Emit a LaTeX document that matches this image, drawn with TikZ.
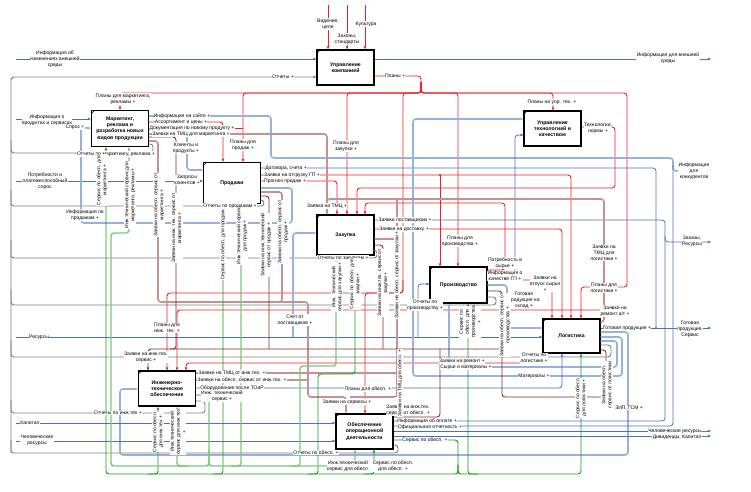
\documentclass[tikz,border=0pt]{standalone}
\usepackage{fontspec}
\setmainfont{Liberation Sans}
\usetikzlibrary{arrows.meta}

\definecolor{ctlred}{RGB}{236,32,36}
\definecolor{infblue}{RGB}{70,114,196}
\definecolor{matblue}{RGB}{150,178,222}
\definecolor{srvgreen}{RGB}{20,160,20}
\definecolor{isrvgreen}{RGB}{120,200,120}
\definecolor{reqbrown}{RGB}{140,45,45}
\definecolor{oreqbrown}{RGB}{200,145,145}
\definecolor{repgray}{RGB}{125,125,125}

\tikzset{
  proc/.style={draw,line width=1.1pt,fill=white,minimum width=57pt,minimum height=35pt,inner sep=1pt,align=center,font=\fontsize{5.2}{6.2}\selectfont\bfseries},
  lbl/.style={fill=white,inner sep=0.3pt,align=center,font=\fontsize{5}{6}\selectfont},
  vlbl/.style={lbl,rotate=90},
  ctl/.style={draw=ctlred,line width=0.9pt,rounded corners=3pt},
  inf/.style={draw=infblue,line width=0.8pt,rounded corners=3pt},
  mat/.style={draw=matblue,line width=1.6pt,rounded corners=3pt},
  srv/.style={draw=srvgreen,line width=0.9pt,rounded corners=3pt},
  isrv/.style={draw=isrvgreen,line width=1.4pt,rounded corners=3pt},
  req/.style={draw=reqbrown,line width=0.9pt,rounded corners=3pt},
  oreq/.style={draw=oreqbrown,line width=1.6pt,rounded corners=3pt},
  rep/.style={draw=repgray,line width=0.9pt,rounded corners=3pt},
}

\begin{document}
\begin{tikzpicture}[x=1pt,y=-1pt,>={Triangle[length=3pt,width=2.4pt]}]

    \fill[white] (0,0) rectangle (751,491);
    \useasboundingbox (0,0) rectangle (751,491);

    % Functions
    \node[proc] (upr) at (345.5,67.5) {Управление\\компанией};
    \node[proc,minimum height=36pt] (mark) at (120,128.5) {Маркетинг,\\реклама и\\разработка новых\\видов продукции};
    \node[proc,minimum height=41pt] (prod) at (232,183) {Продажи};
    \node[proc] (tech) at (552.5,128.5) {Управление\\технологией и\\качеством};
    \node[proc,minimum height=40pt] (zak) at (345.5,235) {Закупка};
    \node[proc,minimum height=36pt] (proizv) at (458.5,285) {Производство};
    \node[proc,minimum height=34pt] (log) at (571.5,336) {Логистика};
    \node[proc] (inzh) at (167,388.5) {Инженерно-\\техническое\\обеспечение};
    \node[proc] (obesp) at (364.5,431.5) {Обеспечение\\операционной\\деятельности};
    \foreach \b in {upr,mark,prod,tech,zak,proizv,log,inzh,obesp}
      \draw[line width=0.5pt] ([yshift=-4pt]\b.north west) -- ([xshift=4pt]\b.north west);

    % Reports
    \draw[rep,->] (11,453) -- (11,77) -- (upr.west |- 0,77);
    \draw[rep] (mark.east |- 0,144) -- (153,144) -- (153,153) -- (11,153) -- (11,140);
    \draw[rep] (prod.east |- 0,200) -- (264,200) -- (264,206) -- (11,206) -- (11,190);
    \draw[rep] (zak.east |- 0,250) -- (377,250) -- (377,258) -- (11,258) -- (11,240);
    \draw[rep] (proizv.east |- 0,297) -- (496,297) -- (496,305) -- (11,305) -- (11,290);
    \draw[rep] (log.east |- 0,345) -- (611,345) -- (611,357) -- (11,357) -- (11,340);
    \draw[rep] (inzh.east |- 0,401) -- (205,401) -- (205,413) -- (11,413) -- (11,400);
    \draw[rep] (obesp.east |- 0,445) -- (398,445) -- (398,453) -- (11,453) -- (11,440);

    % Controls from outside
    \foreach \x in {328,347,365} \draw[ctl,->] (\x,5) -- (\x,0 |- upr.north);

    % Plans
    \draw[ctl] (upr.east |- 0,76) -- (421,76) -- (421,93);
    \draw[ctl,->] (421,82) -- (421,93) -- (120,93) -- (120,0 |- mark.north);
    \draw[ctl,->] (421,82) -- (421,93) -- (243,93) -- (243,0 |- prod.north);
    \draw[ctl,->] (421,82) -- (421,93) -- (347,93) -- (347,0 |- zak.north);
    \draw[ctl,->] (421,82) -- (421,93) -- (403,93) -- (403,293) -- (167,293) -- (167,0 |- inzh.north);
    \draw[ctl,->] (403,280) -- (403,293) -- (365,293) -- (365,0 |- obesp.north);
    \draw[ctl,->] (421,82) -- (421,93) -- (458,93) -- (458,0 |- proizv.north);
    \draw[ctl,->] (421,82) -- (421,93) -- (553,93) -- (553,0 |- tech.north);
    \draw[ctl,->] (421,82) -- (421,93) -- (627,93) -- (627,287) -- (581,287) -- (581,0 |- log.north);

    % Other controls
    \draw[ctl,->] (tech.east |- 0,127) -- (615,127) -- (615,188) -- (357,188) -- (357,0 |- zak.north);
    \draw[ctl,->] (mark.east |- 0,122) -- (223,122) -- (223,0 |- prod.north);
    \draw[ctl] (mark.east |- 0,128) -- (243,128);
    \draw[ctl,->] (prod.east |- 0,175) -- (571,175) -- (571,0 |- log.north);
    \draw[ctl,->] (440,175) -- (440,0 |- proizv.north);
    \fill[ctlred] (440,175) circle (1.2pt);
    \draw[ctl,->] (prod.east |- 0,181) -- (337,181) -- (337,0 |- zak.north);
    \draw[ctl,->] (zak.east |- 0,229) -- (562,229) -- (562,0 |- log.north);
    \draw[ctl,->] (proizv.east |- 0,270) -- (505,270) -- (505,203) -- (365,203) -- (365,0 |- zak.north);
    \draw[ctl,->] (proizv.east |- 0,280) -- (552,280) -- (552,0 |- log.north);
    \draw[ctl,->] (601,310) -- (177,310) -- (177,0 |- inzh.north);
    \draw[ctl,->] (520,363) -- (186,363) -- (186,0 |- inzh.north);

    % Information and resources
    \draw[inf,->] (16,59) -- (upr.west |- 0,59);
    \draw[inf,->] (upr.east |- 0,59) -- (711,59);
    \draw[inf,->] (16,119) -- (mark.west |- 0,119);
    \draw[inf,->] (16,181) -- (prod.west |- 0,181);
    \draw[mat,->] (prod.east |- 0,188) -- (292,188) -- (292,223) -- (81,223) -- (81,128) -- (mark.west |- 0,128);
    \draw[mat,->] (mark.east |- 0,116) -- (271,116) -- (271,158) -- (673,158) -- (673,171) -- (711,171);
    \draw[mat,->] (187,116) -- (187,170) -- (prod.west |- 0,170);
    \fill[matblue] (187,116) circle (1.3pt);
    \draw[inf] (prod.east |- 0,168) -- (656,168) -- (656,328);
    \draw[inf,->] (zak.east |- 0,220) -- (665,220) -- (665,242) -- (711,242);
    \draw[inf,->] (proizv.east |- 0,275) -- (515,275) -- (515,135) -- (tech.west |- 0,135);
    \draw[mat,->] (proizv.east |- 0,285) -- (507,285) -- (507,328) -- (log.west |- 0,328);
    \draw[inf,->] (log.east |- 0,328) -- (711,328);
    \fill[infblue] (656,328) circle (1.2pt);
    \draw[inf,->] (16,337) -- (log.west |- 0,337);
    \draw[mat,->] (293,337) -- (293,233) -- (zak.west |- 0,233);
    \draw[inf,->] (418,337) -- (418,284) -- (proizv.west |- 0,284);
    \draw[mat,->] (log.east |- 0,332) -- (628,332) -- (628,455) -- (120,455) -- (120,389) -- (inzh.west |- 0,389);
    \draw[mat,->] (log.east |- 0,337) -- (622,337) -- (622,376) -- (413,376) -- (413,119) -- (tech.west |- 0,119);
    \draw[mat,->] (log.east |- 0,341) -- (617,341) -- (617,367) -- (449,367) -- (449,0 |- proizv.south);
    \draw[inf,->] (inzh.east |- 0,388) -- (562,388) -- (562,0 |- log.south);
    \draw[inf,->] (16,423) -- (obesp.west |- 0,423);
    \draw[inf,->] (16,441) -- (obesp.west |- 0,441);
    \draw[inf] (obesp.east |- 0,421) -- (665,421) -- (665,236);
    \draw[inf] (obesp.east |- 0,426) -- (673,426) -- (673,165);
    \draw[inf,->] (obesp.east |- 0,431) -- (711,431);
    \draw[inf,->] (obesp.east |- 0,436) -- (711,436);

    % Requests for materials and services
    \draw[oreq,->] (mark.east |- 0,134) -- (327,134) -- (327,0 |- zak.north);
    \draw[oreq,->] (log.east |- 0,322) -- (604,322) -- (604,199) -- (327,199) -- (327,0 |- zak.north);
    \draw[oreq] (397,199) -- (397,397);
    \draw[oreq,->] (mark.east |- 0,141) -- (158,141) -- (158,302) -- (308,302) -- (308,397) -- (346,397) -- (346,0 |- obesp.north);
    \draw[oreq] (prod.east |- 0,192) -- (282,192) -- (282,302) -- (270,302);
    \draw[oreq] (zak.east |- 0,239) -- (397,239) -- (397,397) -- (350,397);
    \draw[oreq] (inzh.east |- 0,380) -- (308,380);
    \draw[oreq] (inzh.east |- 0,373) -- (397,373);
    \draw[req,->] (mark.east |- 0,137) -- (176,137) -- (176,349) -- (148,349) -- (148,0 |- inzh.north);
    \draw[req] (prod.east |- 0,196) -- (269,196) -- (269,349);
    \draw[req] (zak.east |- 0,245) -- (383,245) -- (383,349);
    \draw[req] (proizv.east |- 0,291) -- (502,291) -- (502,349) -- (170,349);
    \draw[req] (log.east |- 0,350) -- (606,350) -- (606,397) -- (502,397) -- (502,340);
    \draw[req] (obesp.east |- 0,417) -- (440,417) -- (440,349);

    % Services
    \draw[srv] (obesp.east |- 0,440) -- (458,440) -- (458,474);
    \draw[srv,->] (458,465) -- (458,474) -- (106,474) -- (106,0 |- mark.south);
    \draw[srv,->] (458,465) -- (458,474) -- (581,474) -- (581,0 |- log.south);
    \draw[srv,->] (148,474) -- (158,474) -- (158,0 |- inzh.south);
    \draw[srv,->] (213,474) -- (223,474) -- (223,0 |- prod.south);
    \draw[srv,->] (308,474) -- (318,474) -- (318,374) -- (355,374) -- (355,0 |- zak.south);
    \draw[srv,->] (364,474) -- (374,474) -- (374,0 |- obesp.south);
    \draw[srv,->] (478,474) -- (468,474) -- (468,0 |- proizv.south);
    \draw[isrv] (inzh.east |- 0,395) -- (209,395) -- (209,466) -- (355,466);
    \draw[isrv,->] (209,450) -- (209,466) -- (111,466) -- (111,233) -- (129,233) -- (129,0 |- mark.south);
    \draw[isrv,->] (187,466) -- (177,466) -- (177,0 |- inzh.south);
    \draw[isrv,->] (231,466) -- (241,466) -- (241,0 |- prod.south);
    \draw[isrv,->] (290,466) -- (300,466) -- (300,366) -- (336,366) -- (336,0 |- zak.south);
    \draw[isrv,->] (345,466) -- (355,466) -- (355,0 |- obesp.south);

    % Labels
    \node[lbl] (lvid) at (328,24) {Видение,\\цели};
    \node[lbl] (lzakon) at (347,39) {Законы,\\стандарты};
    \node[lbl] (lkult) at (366,24) {Культура};
    \node[lbl] (lenvin) at (55,59) {Информация об\\изменениях внешней\\среды};
    \node[lbl] (lenvout) at (668,58) {Информация для внешней\\среды};
    \node[lbl] (lrep) at (283,77) {Отчеты +};
    \node[lbl] (lplany) at (395,76) {Планы +};
    \node[lbl] (lplmark) at (123,99) {Планы для маркетинга,\\рекламы +};
    \node[lbl] (lplprod) at (243,145) {Планы для\\продаж +};
    \node[lbl] (lplzak) at (346,146) {Планы для\\закупки +};
    \node[lbl] (lpltech) at (552,102) {Планы на упр. тех. +};
    \node[lbl] (ltechn) at (598,128) {Технологии,\\нормы +};
    \node[lbl] (linfprod) at (47,120) {Информация о\\продуктах и сервисах};
    \node[lbl] (lspros) at (75,127) {Спрос +};
    \node[lbl] (lsite) at (182,116) {Информация на сайте +};
    \node[lbl] (lassort) at (181,122) {Ассортимент и цены +};
    \node[lbl] (ldoc) at (192,128) {Документация по новому продукту +};
    \node[lbl] (ltmcmark) at (191,134) {Заявки на ТМЦ для маркетинга +};
    \node[lbl] (lrepmark) at (116,154) {Отчеты по маркетингу, реклама +};
    \node[lbl] (lklient) at (186,148) {Клиенты и\\продукты +};
    \node[lbl] (lpotr) at (45,181) {Потребности и\\платежеспособный\\спрос};
    \node[lbl] (lzapr) at (187,180) {Запросы\\клиентов +};
    \node[lbl] (linfsale) at (85,215) {Информация по\\продажам +};
    \node[lbl] (lrepprod) at (230,206) {Отчеты по продажам +};
    \node[lbl] (ldog) at (286,168) {Договора, счета +};
    \node[lbl] (lotgr) at (292,175) {Заявки на отгрузку ГП +};
    \node[lbl] (lprogn) at (285,181) {Прогноз продаж +};
    \node[lbl] (ltmc) at (327,206) {Заявки на ТМЦ +};
    \node[lbl] (lpost) at (405,220) {Заявки поставщикам +};
    \node[lbl] (ldost) at (404,229) {Заявки на доставку +};
    \node[lbl] (lrepzak) at (343,258) {Отчеты по закупкам +};
    \node[lbl] (lschet) at (295,320) {Счет от\\поставщиков +};
    \node[lbl] (lplproizv) at (460,241) {Планы для\\производства +};
    \node[lbl] (lpotrs) at (505,263) {Потребность в\\сырье +};
    \node[lbl] (lkach) at (505,276) {Информация о\\качестве ГП +};
    \node[lbl] (lotpusk) at (545,284) {Заявки на\\отпуск сырья\\+};
    \node[lbl] (lgpsklad) at (524,300) {Готовая\\продукция на\\склад +};
    \node[lbl] (lrepproizv) at (425,305) {Отчеты по\\производству +};
    \node[lbl] (ltmclog) at (604,253) {Заявки на\\ТМЦ для\\логистики +};
    \node[lbl] (lpllog) at (604,288) {Планы для\\логистики +};
    \node[lbl] (lremat) at (615,311) {Заявки на\\ремонт а/т +};
    \node[lbl] (lgp) at (627,328) {Готовая продукция +};
    \node[lbl] (lgpout) at (690,329) {Готовая\\продукция,\\Сервис};
    \node[lbl] (lreplog) at (534,358) {Отчеты по\\логистике +};
    \node[lbl] (lrem) at (462,361) {Заявки на ремонт +};
    \node[lbl] (lsyr) at (466,367) {Сырье и материалы +};
    \node[lbl] (lmat) at (534,376) {Материалы +};
    \node[lbl] (lzip) at (629,408) {ЗИП, ГСМ +};
    \node[lbl] (lresin) at (39,337) {Ресурсы};
    \node[lbl] (lplinzh) at (167,328) {Планы для\\инж. тех. +};
    \node[lbl] (lreqinzh) at (146,357) {Заявки на инж.тех.\\сервис +};
    \node[lbl] (ltmcinzh) at (232,373) {Заявки на ТМЦ от инж.тех. +};
    \node[lbl] (lobinzh) at (242,380) {Заявки на обесп. сервис от инж.тех. +};
    \node[lbl] (loborud) at (232,388) {Оборудование после ТОиР};
    \node[lbl] (lisrv) at (222,396) {Инж. технический\\сервис +};
    \node[lbl] (lrepinzh) at (118,413) {Отчеты по инж.тех +};
    \node[lbl] (lkap) at (30,423) {Капитал};
    \node[lbl] (lhum) at (37,440) {Человеческие\\ресурсы};
    \node[lbl] (lplob) at (368,389) {Планы для обесп. +};
    \node[lbl] (lzserv) at (347,402) {Заявки на сервисы +};
    \node[lbl] (lreqob) at (408,410) {Заявки на инж.тех.\\сервис от обесп. +};
    \node[lbl] (lopl) at (427,421) {Информация об оплате +};
    \node[lbl] (lotch) at (430,427) {Официальная отчетность +};
    \node[lbl] (lsrvob) at (425,440) {Сервис по обесп. +};
    \node[lbl] (lrepob) at (316,453) {Отчеты по обесп. +};
    \node[lbl] (lisrvob) at (348,466) {Инж.технический\\сервис для обесп.};
    \node[lbl] (lsrvobob) at (393,466) {Сервис по обесп.\\для обесп. +};
    \node[lbl] (lhumout) at (675,431) {Человеческие ресурсы};
    \node[lbl] (ldivout) at (677,437) {Дивиденды, Капитал};
    \node[lbl] (lzakout) at (692,241) {Заказы,\\Ресурсы};
    \node[lbl] (lkonk) at (694,171) {Информация\\для\\конкурентов};

    % Vertical labels
    \node[vlbl] (vsrvmark) at (102,180) {Сервис по обесп. для\\маркетинга +};
    \node[vlbl] (visrvmark) at (130,195) {Инж.технический сервис для\\маркетинга, рекламы +};
    \node[vlbl] (vobmark) at (159,205) {Заявки на обесп. сервис от\\маркетинга +};
    \node[vlbl] (vinmark) at (177,228) {Заявки на инж. тех. сервис от\\маркетинга +};
    \node[vlbl] (vsrvprod) at (223,245) {Сервис по обесп. для продаж};
    \node[vlbl] (visrvprod) at (242,236) {Инж.технический сервис\\для продаж +};
    \node[vlbl] (vinprod) at (266,245) {Заявки на инж.технический\\сервис от продаж +};
    \node[vlbl] (vobprod) at (283,232) {Заявки на обесп. сервис от\\продаж +};
    \node[vlbl] (visrvzak) at (337,287) {Инж. технический\\сервис для закупки +};
    \node[vlbl] (vsrvzak) at (355,284) {Сервис по обесп. для\\закупки +};
    \node[vlbl] (vinzak) at (383,283) {Заявки на инж.тех. сервис от\\закупки +};
    \node[vlbl] (vobzak) at (397,275) {Заявки на обесп. сервис от закупки +};
    \node[vlbl] (vsrvproizv) at (470,322) {Сервис по\\обесп. для\\производства\\+};
    \node[vlbl] (vobproizv) at (505,325) {Заявки на обесп. сервис от\\производства +};
    \node[vlbl] (vsrvlog) at (581,398) {Сервис по обесп.\\для логистики +};
    \node[vlbl] (vreqlog) at (607,385) {Заявки на обесп.\\сервис от логистики};
    \node[vlbl] (vsrvinzh) at (158,432) {Сервис по обесп.\\для инж.тех +};
    \node[vlbl] (visrvinzh) at (178,432) {Инж.технический\\сервис для инж.тех\\+};
    \node[vlbl] (vtmcob) at (400,383) {Заявки на ТМЦ для обесп. +};

\end{tikzpicture}
\end{document}
